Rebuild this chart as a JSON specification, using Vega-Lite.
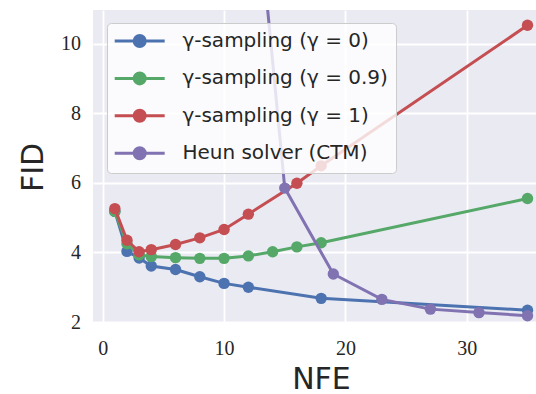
{
  "$schema": "https://vega.github.io/schema/vega-lite/v6.json",
  "autosize": {"type": "none"},
  "padding": {"left": 93, "top": 10, "right": 0, "bottom": 72},
  "width": 443,
  "height": 312,
  "background": "white",
  "config": {"view": {"fill": "#EAEAF2", "stroke": null}},
  "data": {"values": [
    {"s": "γ-sampling (γ = 0)", "nfe": 1, "fid": 5.18},
    {"s": "γ-sampling (γ = 0)", "nfe": 2, "fid": 4.03},
    {"s": "γ-sampling (γ = 0)", "nfe": 3, "fid": 3.84},
    {"s": "γ-sampling (γ = 0)", "nfe": 4, "fid": 3.61},
    {"s": "γ-sampling (γ = 0)", "nfe": 6, "fid": 3.51},
    {"s": "γ-sampling (γ = 0)", "nfe": 8, "fid": 3.30},
    {"s": "γ-sampling (γ = 0)", "nfe": 10, "fid": 3.11},
    {"s": "γ-sampling (γ = 0)", "nfe": 12, "fid": 3.00},
    {"s": "γ-sampling (γ = 0)", "nfe": 18, "fid": 2.68},
    {"s": "γ-sampling (γ = 0)", "nfe": 35, "fid": 2.34},
    {"s": "γ-sampling (γ = 0.9)", "nfe": 1, "fid": 5.18},
    {"s": "γ-sampling (γ = 0.9)", "nfe": 2, "fid": 4.25},
    {"s": "γ-sampling (γ = 0.9)", "nfe": 3, "fid": 3.93},
    {"s": "γ-sampling (γ = 0.9)", "nfe": 4, "fid": 3.88},
    {"s": "γ-sampling (γ = 0.9)", "nfe": 6, "fid": 3.85},
    {"s": "γ-sampling (γ = 0.9)", "nfe": 8, "fid": 3.83},
    {"s": "γ-sampling (γ = 0.9)", "nfe": 10, "fid": 3.83},
    {"s": "γ-sampling (γ = 0.9)", "nfe": 12, "fid": 3.90},
    {"s": "γ-sampling (γ = 0.9)", "nfe": 14, "fid": 4.02},
    {"s": "γ-sampling (γ = 0.9)", "nfe": 16, "fid": 4.16},
    {"s": "γ-sampling (γ = 0.9)", "nfe": 18, "fid": 4.28},
    {"s": "γ-sampling (γ = 0.9)", "nfe": 35, "fid": 5.55},
    {"s": "γ-sampling (γ = 1)", "nfe": 1, "fid": 5.26},
    {"s": "γ-sampling (γ = 1)", "nfe": 2, "fid": 4.35},
    {"s": "γ-sampling (γ = 1)", "nfe": 3, "fid": 4.02},
    {"s": "γ-sampling (γ = 1)", "nfe": 4, "fid": 4.08},
    {"s": "γ-sampling (γ = 1)", "nfe": 6, "fid": 4.23},
    {"s": "γ-sampling (γ = 1)", "nfe": 8, "fid": 4.42},
    {"s": "γ-sampling (γ = 1)", "nfe": 10, "fid": 4.66},
    {"s": "γ-sampling (γ = 1)", "nfe": 12, "fid": 5.10},
    {"s": "γ-sampling (γ = 1)", "nfe": 16, "fid": 5.99},
    {"s": "γ-sampling (γ = 1)", "nfe": 18, "fid": 6.49},
    {"s": "γ-sampling (γ = 1)", "nfe": 35, "fid": 10.53},
    {"s": "Heun solver (CTM)", "nfe": 11, "fid": 20.4},
    {"s": "Heun solver (CTM)", "nfe": 15, "fid": 5.85},
    {"s": "Heun solver (CTM)", "nfe": 19, "fid": 3.38},
    {"s": "Heun solver (CTM)", "nfe": 23, "fid": 2.65},
    {"s": "Heun solver (CTM)", "nfe": 27, "fid": 2.37},
    {"s": "Heun solver (CTM)", "nfe": 31, "fid": 2.27},
    {"s": "Heun solver (CTM)", "nfe": 35, "fid": 2.18}
  ]},
  "encoding": {
    "x": {"field": "nfe", "type": "quantitative",
      "scale": {"domain": [-0.8, 35.7], "nice": false, "zero": false},
      "axis": {"values": [0, 10, 20, 30], "grid": true, "gridColor": "white", "gridWidth": 1.8,
        "domain": false, "ticks": false, "tickSize": 0, "labelFlush": false, "labelOverlap": false,
        "labelFont": "Liberation Serif", "labelFontSize": 20, "labelColor": "#262626",
        "labelPadding": 32, "labelBaseline": "alphabetic",
        "title": "NFE", "titleFont": "DejaVu Sans", "titleFontSize": 30, "titleFontWeight": "normal",
        "titleColor": "#262626", "titleX": 228, "titleY": 66, "titleBaseline": "alphabetic", "titleAlign": "center"}},
    "y": {"field": "fid", "type": "quantitative",
      "scale": {"domain": [2, 10.97], "nice": false, "zero": false},
      "axis": {"values": [2, 4, 6, 8, 10], "grid": true, "gridColor": "white", "gridWidth": 1.8,
        "domain": false, "ticks": false, "tickSize": 0, "labelFlush": false, "labelOverlap": false,
        "labelFont": "Liberation Serif", "labelFontSize": 20, "labelColor": "#262626",
        "labelPadding": 12.6,
        "title": "FID", "titleFont": "DejaVu Sans", "titleFontSize": 30, "titleFontWeight": "normal",
        "titleColor": "#262626", "titleAngle": -90, "titleX": -51, "titleY": 157,
        "titleBaseline": "alphabetic", "titleAlign": "center"}},
    "color": {"field": "s", "type": "nominal",
      "scale": {"domain": ["γ-sampling (γ = 0)", "γ-sampling (γ = 0.9)", "γ-sampling (γ = 1)", "Heun solver (CTM)"],
        "range": ["#4C72B0", "#55A868", "#C44E52", "#8172B2"]},
      "legend": {"orient": "none", "legendX": 14, "legendY": 13, "title": null,
        "symbolType": "M-2.94,0L2.94,0M-0.647,0A0.647,0.647,0,1,1,0.647,0A0.647,0.647,0,1,1,-0.647,0Z",
        "symbolSize": 289, "symbolStrokeWidth": 3, "symbolOffset": 14.7,
        "labelFont": "DejaVu Sans", "labelFontSize": 20, "labelColor": "#262626", "labelLimit": 400,
        "labelOffset": 32.7, "padding": 8, "rowPadding": 13.4,
        "fillColor": "rgba(255,255,255,0.8)", "strokeColor": "#cccccc", "cornerRadius": 4,
        "encode": {"symbols": {"update": {
          "fill": {"scale": "color", "field": "value"},
          "stroke": {"scale": "color", "field": "value"},
          "opacity": {"value": 1}}}}}}
  },
  "layer": [
    {"transform": [{"filter": "datum.s == 'γ-sampling (γ = 0)'"}], "mark": {"type": "line", "strokeWidth": 3, "clip": true}},
    {"transform": [{"filter": "datum.s == 'γ-sampling (γ = 0)'"}], "mark": {"type": "point", "filled": true, "size": 130, "opacity": 1, "clip": true}},
    {"transform": [{"filter": "datum.s == 'γ-sampling (γ = 0.9)'"}], "mark": {"type": "line", "strokeWidth": 3, "clip": true}},
    {"transform": [{"filter": "datum.s == 'γ-sampling (γ = 0.9)'"}], "mark": {"type": "point", "filled": true, "size": 130, "opacity": 1, "clip": true}},
    {"transform": [{"filter": "datum.s == 'γ-sampling (γ = 1)'"}], "mark": {"type": "line", "strokeWidth": 3, "clip": true}},
    {"transform": [{"filter": "datum.s == 'γ-sampling (γ = 1)'"}], "mark": {"type": "point", "filled": true, "size": 130, "opacity": 1, "clip": true}},
    {"transform": [{"filter": "datum.s == 'Heun solver (CTM)'"}], "mark": {"type": "line", "strokeWidth": 3, "clip": true}},
    {"transform": [{"filter": "datum.s == 'Heun solver (CTM)'"}], "mark": {"type": "point", "filled": true, "size": 130, "opacity": 1, "clip": true}}
  ]
}
